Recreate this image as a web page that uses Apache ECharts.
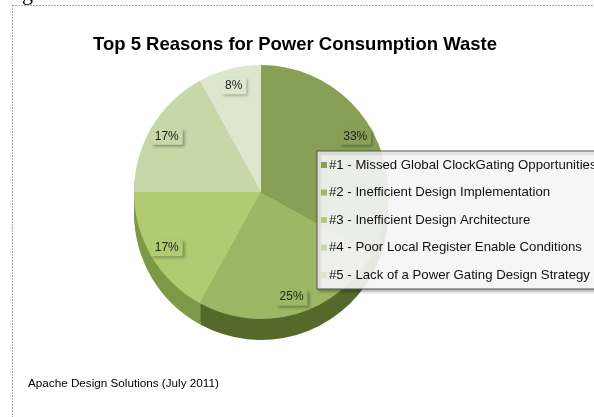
<!DOCTYPE html>
<html>
<head>
<meta charset="utf-8">
<script src="https://cdn.jsdelivr.net/npm/echarts@6/dist/echarts.min.js"></script>
<style>
html,body{margin:0;padding:0;background:#fff;overflow:hidden;width:594px;height:417px;}
#chart{width:660px;height:417px;}
</style>
</head>
<body>
<div id="chart"></div>
<script>
const titleText = 'Top 5 Reasons for Power Consumption Waste';
const sourceText = 'Apache Design Solutions (July 2011)';
const categories = [
  '#1 - Missed Global ClockGating Opportunities',
  '#2 - Inefficient Design Implementation',
  '#3 - Inefficient Design Architecture',
  '#4 - Poor Local Register Enable Conditions',
  '#5 - Lack of a Power Gating Design Strategy'
];
const values = [33, 25, 17, 17, 8];
const topColors = ['#87a055', '#9cb865', '#b0cb72', '#c7d8a8', '#dde7cd'];
const rimColors = ['#4e6125', '#55692a', '#7d9947', '#9db070', '#b6c59a'];

const CX = 261, CY = 192, R = 127, DEPTH = 21;

const chart = echarts.init(document.getElementById('chart'), null, {renderer: 'canvas'});

const series = [];
series.push({
  type: 'pie', name: 'top', z: 5,
  center: [CX, CY], radius: [0, R],
  startAngle: 90, clockwise: true,
  silent: true, animation: false,
  label: {show: false}, labelLine: {show: false},
  data: categories.map((c, i) => ({name: c, value: values[i], itemStyle: {color: topColors[i]}}))
});
for (let d = DEPTH; d >= 1; d -= 3) {
  series.push({
    type: 'pie', name: 'rim' + d, z: 1,
    center: [CX, CY + d], radius: [0, R],
    startAngle: 90, clockwise: true,
    silent: true, animation: false,
    label: {show: false}, labelLine: {show: false},
    data: categories.map((c, i) => ({name: c, value: values[i], itemStyle: {color: rimColors[i]}}))
  });
}
series.push({
  type: 'pie', name: 'labels', z: 6,
  center: [CX, CY], radius: [86, R],
  startAngle: 90, clockwise: true,
  silent: true, animation: false,
  itemStyle: {color: 'rgba(0,0,0,0)'},
  labelLine: {show: false},
  label: {
    show: true, position: 'inside',
    formatter: p => p.value + '%',
    fontFamily: 'Liberation Sans', fontSize: 12, color: '#222',
    padding: [3, 4, 2, 4],
    shadowBlur: 3, shadowOffsetX: 2, shadowOffsetY: 2, shadowColor: 'rgba(0,0,0,0.35)'
  },
  data: categories.map((c, i) => ({name: c, value: values[i], label: {backgroundColor: topColors[i]}}))
});

chart.setOption({
  animation: false,
  backgroundColor: '#fff',
  legend: {
    z: 20,
    orient: 'vertical',
    left: 317, top: 151,
    padding: [7, 10, 7, 4],
    itemWidth: 6, itemHeight: 6, itemGap: 13.5,
    icon: 'rect',
    backgroundColor: 'rgba(255,255,255,0.88)',
    borderColor: '#555', borderWidth: 1,
    shadowBlur: 3, shadowOffsetX: 2, shadowOffsetY: 2, shadowColor: 'rgba(0,0,0,0.35)',
    textStyle: {fontFamily: 'Liberation Sans', fontSize: 13.2, color: '#111', lineHeight: 14, padding: [0, 0, 0, -3]},
    data: categories.map((c, i) => ({name: c, itemStyle: {color: topColors[i]}})),
    selectedMode: false
  },
  graphic: [
    {type: 'line', shape: {x1: 12, y1: 5.5, x2: 594, y2: 5.5}, style: {stroke: '#a8a8a8', lineWidth: 1, lineDash: [2, 1]}},
    {type: 'line', shape: {x1: 12.5, y1: 5, x2: 12.5, y2: 417}, style: {stroke: '#a8a8a8', lineWidth: 1, lineDash: [2, 1]}},
    {type: 'text', left: 22, top: -17, style: {text: 'g', font: '22px "Liberation Serif"', fill: '#000'}},
    {type: 'text', x: 295, y: 45, style: {text: titleText, font: 'bold 18.5px "Liberation Sans"', fill: '#000', textAlign: 'center', textVerticalAlign: 'middle'}},
    {type: 'text', x: 28, y: 384, style: {text: sourceText, font: '11.7px "Liberation Sans"', fill: '#000', textAlign: 'left', textVerticalAlign: 'middle'}}
  ],
  series: series
});
</script>
</body>
</html>
